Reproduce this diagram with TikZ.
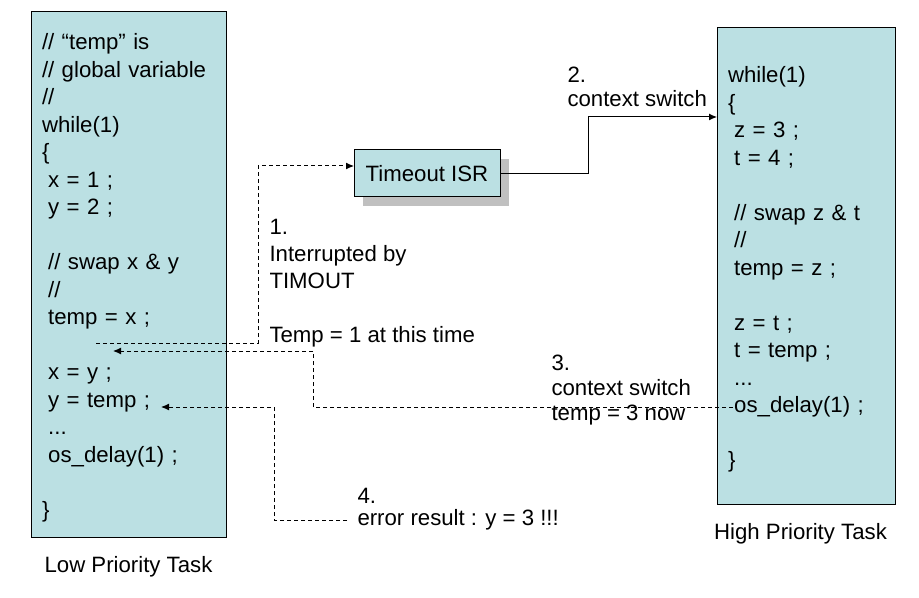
\documentclass[tikz,border=0pt]{standalone}
\usepackage{fontspec}
\setmainfont{Liberation Sans}
\usetikzlibrary{arrows.meta,positioning,shadows}
\definecolor{taskblue}{HTML}{BBE0E3}
\definecolor{shadowgray}{HTML}{C0C0C0}
\newcommand\ind{\hspace*{0.28em}}
\tikzset{
  task/.style={draw, fill=taskblue, align=left, inner xsep=5.5pt, inner ysep=0pt},
  lbl/.style={inner sep=0pt, align=left, font=\fontsize{11.1}{12}\selectfont},
  flow/.style={-{Latex[length=4pt,width=3.5pt]}},
  ctx/.style={flow, dash pattern=on 2pt off 1.5pt}
}
\begin{document}
\begin{tikzpicture}[x=0.5pt, y=-0.5pt, line width=0.5pt, font=\fontsize{11.1}{13.75}\selectfont]
\useasboundingbox (0,0) rectangle (919,598);
% the two tasks
\node[task, minimum width=97.5pt, minimum height=262.5pt, text width=86.5pt] (lbox) at (128.5,274.5) {%
\rule{0pt}{11.1pt}// “temp” is\\
// global variable\\
//\\
while(1)\\
\{\\
\ind x = 1 ;\\
\ind y = 2 ;\\
\mbox{}\\
\ind // swap x \& y\\
\ind //\\
\ind temp = x ;\\
\mbox{}\\
\ind x = y ;\\
\ind y = temp ;\\
\ind ...\\
\ind os\_delay(1) ;\\
\mbox{}\\
\}};
\node[task, minimum width=89pt, minimum height=238pt, text width=78pt] (rbox) at (806,266) {%
\rule{0pt}{11.6pt}while(1)\\
\{\\
\ind z = 3 ;\\
\ind t = 4 ;\\
\mbox{}\\
\ind // swap z \& t\\
\ind //\\
\ind temp = z ;\\
\mbox{}\\
\ind z = t ;\\
\ind t = temp ;\\
\ind ...\\
\ind os\_delay(1) ;\\
\mbox{}\\
\}};
\node[below=9pt of lbox, inner sep=0pt] (lname) {Low Priority Task};
\node[below=9pt of rbox, xshift=-2.75pt, inner sep=0pt] (rname) {High Priority Task};
% interrupt routine
\node[draw, fill=taskblue, minimum width=73pt, minimum height=23.5pt, inner sep=0pt,
  drop shadow={shadow xshift=4.5pt, shadow yshift=-4.5pt, fill=shadowgray, opacity=1}] (isr) at (427,173.5) {Timeout ISR};
% labels
\node[lbl, anchor=west, font=\fontsize{11.1}{13.5}\selectfont] (why) at (269,283) {1.\\Interrupted by\\TIMOUT\\\mbox{}\\Temp = 1 at this time};
\node[lbl, anchor=west] (sw2) at (567,87) {2.\\context switch};
\node[lbl, anchor=west, font=\fontsize{11.1}{12.7}\selectfont] (sw3) at (551,390) {3.\\context switch\\temp = 3 now};
\node[lbl, anchor=west] (num4) at (357,496) {4.};
\node[lbl, anchor=west] (err) at (357,520) {error result : y = 3 !!!};
% ends of the connectors
\coordinate (lcut) at (96,343);
\coordinate (isrin) at (354,166);
\coordinate (rin) at (717,117);
\coordinate (rcut) at (733,407);
\coordinate (lback) at (113,351);
\coordinate (lres) at (161,407);
\draw[ctx] (lcut) -- ++(162,0) |- (isrin);
\draw[flow] (isr.east) -- ++(88,0) |- (rin);
\draw[ctx] (rcut) -- ++(-420,0) |- (lback);
\draw[ctx] ([xshift=-5pt]err.west) -- ++(-73,0) |- (lres);
\end{tikzpicture}
\end{document}
